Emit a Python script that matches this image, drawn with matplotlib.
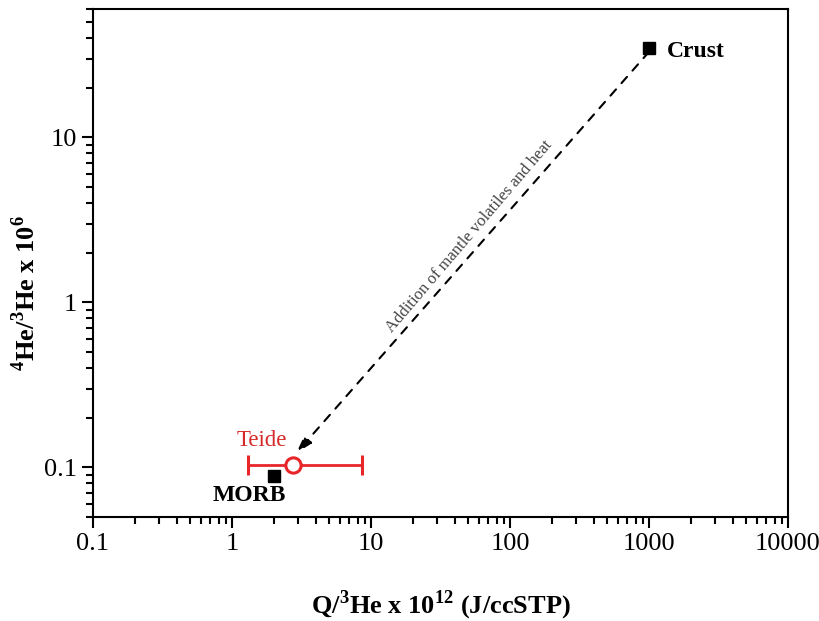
import numpy as np
import matplotlib
matplotlib.use("Agg")
import matplotlib.pyplot as plt
from matplotlib.ticker import LogLocator, FixedLocator, FixedFormatter, NullFormatter

plt.rcParams['font.family'] = ['Liberation Serif', 'DejaVu Serif']
plt.rcParams['mathtext.fontset'] = 'custom'
plt.rcParams['mathtext.rm'] = 'Liberation Serif'
plt.rcParams['mathtext.bf'] = 'Liberation Serif:bold'

# end members
crust_x, crust_y = 1000, 35
morb_x, morb_y = 2.0, 0.088

# Teide sample with x range
teide_x, teide_y = 2.75, 0.104
teide_xlo, teide_xhi = 1.30, 8.6

# mixing arrow (from crust towards Teide)
arrow_start = (1000, 33)
arrow_end = (2.9, 0.122)

xticks = [0.1, 1, 10, 100, 1000, 10000]
xticklabels = ["0.1", "1", "10", "100", "1000", "10000"]
yticks = [0.1, 1, 10]
yticklabels = ["0.1", "1", "10"]

fig = plt.figure(figsize=(8.2, 6.21), dpi=100)
ax = fig.add_axes([93 / 820, 1 - 517 / 621, (788 - 93) / 820, (517 - 9) / 621])

ax.set_xscale("log")
ax.set_yscale("log")
ax.set_xlim(0.1, 10000)
ax.set_ylim(0.05, 60)

# dashed arrow
ax.annotate("", xy=arrow_end, xytext=arrow_start,
            arrowprops=dict(arrowstyle="-|>,head_length=1.0,head_width=0.3",
                            linestyle=(0, (4, 4)), color="black", lw=1.5,
                            shrinkA=0, shrinkB=0))
ax.text(51, 2.5, "Addition of mantle volatiles and heat", rotation=49.5,
        rotation_mode="anchor", ha="center", va="center", fontsize=12,
        color="#444444")

# end members
ax.plot([crust_x], [crust_y], "s", color="black", ms=8)
ax.plot([morb_x], [morb_y], "s", color="black", ms=8)
ax.text(1350, crust_y * 0.95, "Crust", fontsize=17, fontweight="bold", va="center", ha="left")
ax.text(0.73, 0.0672, "MORB", fontsize=17, fontweight="bold", va="center", ha="left")

# Teide
err = [[teide_x - teide_xlo], [teide_xhi - teide_x]]
ax.errorbar([teide_x], [teide_y], xerr=err, fmt="o", color="#e8262a", mfc="white",
            mec="#e8262a", ms=11, mew=2.2, elinewidth=2, capsize=7, capthick=2)
ax.text(1.64, 0.146, "Teide", fontsize=16.5, color="#d42a2a", ha="center", va="center")

# axes styling
ax.xaxis.set_major_locator(FixedLocator(xticks))
ax.xaxis.set_major_formatter(FixedFormatter(xticklabels))
ax.xaxis.set_minor_locator(LogLocator(base=10, subs=np.arange(2, 10)))
ax.xaxis.set_minor_formatter(NullFormatter())
ax.yaxis.set_major_locator(FixedLocator(yticks))
ax.yaxis.set_major_formatter(FixedFormatter(yticklabels))
ax.yaxis.set_minor_locator(LogLocator(base=10, subs=np.arange(2, 10)))
ax.yaxis.set_minor_formatter(NullFormatter())

for s in ax.spines.values():
    s.set_linewidth(1.5)
ax.tick_params(which="both", direction="out", top=False, right=False, width=1.5)
ax.tick_params(which="major", length=8, labelsize=19)
ax.tick_params(which="minor", length=5)

ax.set_xlabel(r"Q/$^{\mathbf{3}}$He x 10$^{\mathbf{12}}$ (J/ccSTP)", fontsize=19,
              fontweight="bold")
ax.set_ylabel(r"$^{\mathbf{4}}$He/$^{\mathbf{3}}$He x 10$^{\mathbf{6}}$", fontsize=19,
              fontweight="bold")
ax.xaxis.set_label_coords(0.5, -0.14)
ax.yaxis.set_label_coords(-0.076, 0.44)

fig.savefig("out.png", dpi=100)
